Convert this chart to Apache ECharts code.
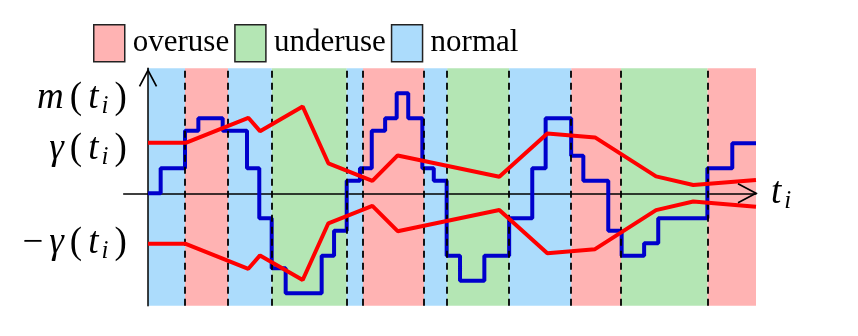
<!DOCTYPE html>
<html>
<head>
<meta charset="utf-8">
<script src="https://cdn.jsdelivr.net/npm/echarts@6/dist/echarts.min.js"></script>
<style>
  html, body { margin: 0; background: #fff; }
  #chart { width: 858px; height: 336px; }
</style>
</head>
<body>
<div id="chart"></div>
<script>
// step function m(t_i): start time of each step and its level
const stepTimes = [0, 1.04, 3.04, 4.14, 6.14, 8.14, 9.15, 10.17, 11.32, 14.28, 15.3, 16.34, 17.43, 18.4, 19.5, 20.45, 21.4, 22.56, 23.5, 24.56, 25.66, 27.66, 29.7, 31.6, 32.7, 34.8, 35.8, 37.85, 38.95, 40.8, 41.96, 46.0, 48.05, 50];
const stepLevels = [0, 2, 5, 6, 5, 2, -2, -6, -8, -5, -3, 1, 2, 5, 6, 8, 6, 2, 1, -5, -7, -5, -2, 2, 6, 3, 1, -3, -5, -4, -2, 2, 4, 4];

// threshold gamma(t_i), drawn as +gamma and -gamma
const gammaTimes = [0, 3.1, 8.25, 9.21, 12.72, 14.83, 18.45, 20.53, 28.89, 32.84, 36.76, 41.78, 44.84, 50];
const gammaValues = [4.04, 4.04, 6.04, 4.97, 6.94, 2.4, 1.0, 3.03, 1.33, 4.79, 4.47, 1.35, 0.66, 1.07];

// coloured regions
const bandEdges = [0, 3.04, 6.58, 10.17, 16.34, 17.68, 22.7, 24.6, 29.7, 34.8, 38.9, 46.0, 50];
const bandKinds = ['normal', 'overuse', 'normal', 'underuse', 'normal', 'overuse', 'normal', 'underuse', 'normal', 'overuse', 'underuse', 'overuse'];
const kindNames = ['overuse', 'underuse', 'normal'];
const kindColors = { overuse: '#ffb3b3', underuse: '#b4e6b4', normal: '#acdcfc' };

// y-axis labels
const yLabelValues = [7.6, 3.5, -4];
const yLabelTexts = {
  '7.6': '{it|m}{n|(}{it|t}{sub|i}{n|)}',
  '3.5': '{it|γ}{n|(}{it|t}{sub|i}{n|)}',
  '-4': '{n|−}{it|γ}{n|(}{it|t}{sub|i}{n|)}'
};

const serif = "'Liberation Serif', 'DejaVu Serif', serif";

const mathRich = {
  it: { fontFamily: serif, fontStyle: 'italic', fontSize: 37, color: '#000', padding: [0, 3] },
  n: { fontFamily: serif, fontSize: 37, color: '#000', padding: [0, 3] },
  sub: { fontFamily: serif, fontStyle: 'italic', fontSize: 25, color: '#000', padding: [16, 3, 0, 0] }
};

const chart = echarts.init(document.getElementById('chart'));

const bandSeries = kindNames.map(kind => {
  const areas = [];
  bandKinds.forEach((k, i) => {
    if (k === kind) areas.push([{ xAxis: bandEdges[i] }, { xAxis: bandEdges[i + 1] }]);
  });
  return {
    name: kind,
    type: 'line',
    data: [],
    z: 1,
    itemStyle: { color: kindColors[kind] },
    lineStyle: { color: kindColors[kind] },
    markArea: {
      silent: true,
      itemStyle: { color: kindColors[kind] },
      data: areas
    }
  };
});

chart.setOption({
  animation: false,
  legend: {
    data: kindNames,
    left: 88,
    top: 19,
    icon: 'rect',
    itemWidth: 31,
    itemHeight: 37,
    itemGap: 5,
    itemStyle: { borderColor: '#222', borderWidth: 1.5 },
    textStyle: { fontFamily: serif, fontSize: 31, color: '#000', padding: [0, 0, 0, 3] }
  },
  grid: { left: 123.7, right: 102, top: 68.3, bottom: 30.2 },
  xAxis: {
    type: 'value',
    min: -2,
    max: 50,
    z: 3,
    axisLine: { onZero: true, lineStyle: { color: '#000', width: 1.5 } },
    axisTick: { show: false },
    axisLabel: { show: false },
    splitLine: { show: false },
    name: '{it|t}{sub|i}',
    nameLocation: 'end',
    nameGap: 12,
    nameTextStyle: { rich: mathRich }
  },
  yAxis: {
    type: 'value',
    min: -9,
    max: 10,
    z: 3,
    axisLine: { onZero: true, lineStyle: { color: '#000', width: 1.5 } },
    axisTick: { show: false },
    splitLine: { show: false },
    axisLabel: {
      customValues: yLabelValues,
      margin: -6,
      formatter: v => yLabelTexts[String(v)] || '',
      rich: mathRich
    }
  },
  series: [
    ...bandSeries,
    {
      name: 'dividers',
      type: 'line',
      data: [],
      z: 2,
      markLine: {
        silent: true,
        symbol: 'none',
        label: { show: false },
        lineStyle: { color: '#000', type: [7, 5], width: 1.8 },
        data: bandEdges.slice(1, -1).map(x => ({ xAxis: x }))
      }
    },
    {
      name: 'm',
      type: 'line',
      step: 'end',
      showSymbol: false,
      z: 4,
      lineStyle: { color: '#0000cc', width: 4 },
      data: stepTimes.map((t, i) => [t, stepLevels[i]])
    },
    {
      name: 'gamma',
      type: 'line',
      showSymbol: false,
      z: 5,
      lineStyle: { color: '#ff0000', width: 4 },
      data: gammaTimes.map((t, i) => [t, gammaValues[i]])
    },
    {
      name: '-gamma',
      type: 'line',
      showSymbol: false,
      z: 5,
      lineStyle: { color: '#ff0000', width: 4 },
      data: gammaTimes.map((t, i) => [t, -gammaValues[i]])
    }
  ]
});

// open arrow heads at the ends of both axes
const yTip = chart.convertToPixel({ gridIndex: 0 }, [0, 10]);
const xTip = chart.convertToPixel({ gridIndex: 0 }, [50, 0]);
yTip[1] += 2;
const arrowStyle = { stroke: '#000', lineWidth: 1.7, fill: null };
chart.setOption({
  graphic: [
    {
      type: 'polyline', z: 10, silent: true,
      shape: { points: [[yTip[0] - 8.5, yTip[1] + 16], yTip, [yTip[0] + 8.5, yTip[1] + 16]] },
      style: arrowStyle
    },
    {
      type: 'polyline', z: 10, silent: true,
      shape: { points: [[xTip[0] - 18, xTip[1] - 9.5], xTip, [xTip[0] - 18, xTip[1] + 9.5]] },
      style: arrowStyle
    }
  ]
});
</script>
</body>
</html>
